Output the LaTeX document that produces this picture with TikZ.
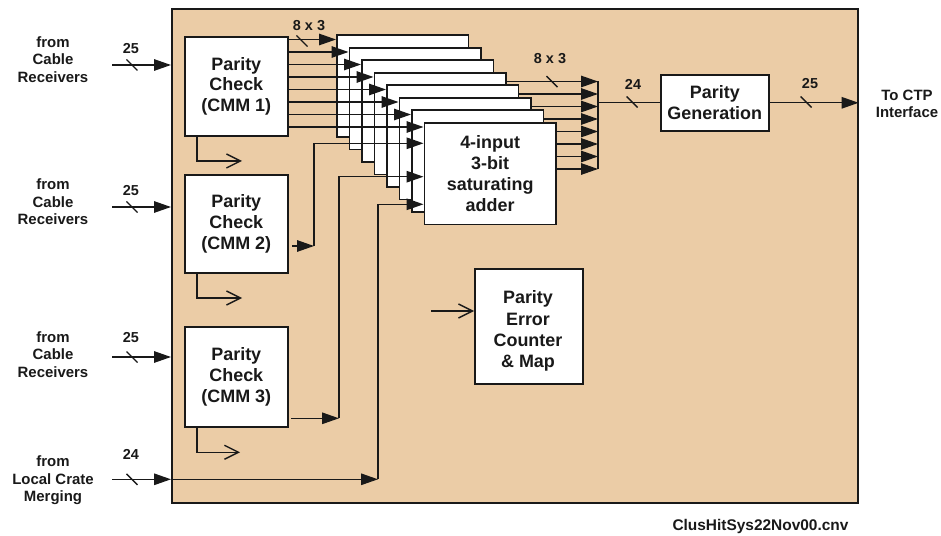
\documentclass[tikz,border=0pt]{standalone}
\usepackage{fontspec}
\setmainfont{Liberation Sans}
\usetikzlibrary{arrows.meta,calc}
\definecolor{tanfill}{RGB}{235,204,166}
\definecolor{ink}{RGB}{25,25,25}
\pgfdeclarelayer{back}
\pgfdeclarelayer{mid}
\pgfsetlayers{back,mid,main}
\tikzset{
  conn/.style={draw=ink, line width=1.4bp},
  fa/.style={-{Triangle[length=17bp,width=11.5bp]}},
  oa/.style={-{Straight Barb[length=14bp,width=14bp]}},
  blk/.style={draw=ink, fill=white, line width=1.6bp, inner sep=0pt, anchor=north west,
    align=center, text=ink, font=\bfseries\fontsize{18}{21}\selectfont},
  lbl/.style={align=center, text=ink, inner sep=0pt, font=\bfseries\fontsize{15}{17.6}\selectfont},
  num/.style={text=ink, inner sep=0pt, font=\bfseries\fontsize{14.5}{17}\selectfont},
  btext/.style={align=center, text=ink, inner sep=0pt, font=\bfseries\fontsize{18}{21.3}\selectfont},
  bus/.pic={\draw[conn] (-5.5,-5.5) -- (5.5,5.5);}
}
\begin{document}
\begin{tikzpicture}[x=1bp,y=-1bp]
\useasboundingbox (0,0) rectangle (941,536);
\begin{pgfonlayer}{back}
\node[draw=ink, fill=tanfill, line width=1.6bp, inner sep=0pt, anchor=north west,
  minimum width=686bp, minimum height=494bp] (main) at (171,8) {};
\end{pgfonlayer}

% parity check blocks
\node[blk, minimum width=103bp, minimum height=99bp] (cmm1) at (184,36) {Parity\\Check\\(CMM 1)};
\node[blk, minimum width=103bp, minimum height=98bp] (cmm2) at (184,174) {Parity\\Check\\(CMM 2)};
\node[blk, minimum width=103bp, minimum height=100bp] (cmm3) at (184,326) {Parity\\Check\\(CMM 3)};
\node[blk, minimum width=108bp, minimum height=56bp] (pgen) at (660,74) {Parity\\Generation};
\node[blk, minimum width=108bp, minimum height=115bp] (perr) at (474,268) {};
\node[btext] (perrtxt) at (528,331) {Parity\\Error\\Counter\\\& Map};

% stack of adders
\foreach \i in {0,...,6} {
  \node[blk, minimum width=131.7bp, minimum height=101.7bp] (s\i) at ({336+12.5*\i},{34.5+12.5*\i}) {};
}
\node[blk, minimum width=131.7bp, minimum height=101.7bp] (s7) at ({336+12.5*7},{34.5+12.5*7}) {4-input\\3-bit\\saturating\\adder};

% output bus of the stack (behind the boxes)
\coordinate (bar) at (598,120);
\begin{pgfonlayer}{mid}
\foreach \i in {0,...,7} {
  \coordinate (o\i) at ($(s\i.north east)+(0,47)$);
  \draw[conn, fa] (o\i) -- (o\i -| bar);
}
\draw[conn] (o0 -| bar) -- (o7 -| bar);
\end{pgfonlayer}

% inputs from CMM1 into each adder
\foreach \i in {0,...,7} {
  \coordinate (t\i) at ($(s\i.north west)+(0,5)$);
  \draw[conn, fa] (t\i -| cmm1.east) -- (t\i);
}

% CMM2, CMM3 and local crate into the front adder
\coordinate (ina) at ($(s7.north west)+(0,21.3)$);
\coordinate (inb) at ($(s7.north west)+(0,54.7)$);
\coordinate (inc) at ($(s7.north west)+(0,82.3)$);
\coordinate (c2s) at (292,246);
\coordinate (c2v) at (314,246);
\coordinate (c3s) at (291,418.3);
\coordinate (c3v) at (339,418.3);
\coordinate (lcs) at (112,479.3);
\coordinate (lcv) at (378,479.3);
\draw[conn, fa] (c2s) -- (c2v);
\draw[conn, fa] (c2v) |- (ina);
\draw[conn, fa] (c3s) -- (c3v);
\draw[conn, fa] (c3v) |- (inb);
\draw[conn, fa] (lcs) -- (lcs -| main.west);
\draw[conn, fa] (lcs -| main.west) -- (lcv);
\draw[conn, fa] (lcv) |- (inc);

% error outputs below each parity check
\coordinate (e1) at (242,161);
\coordinate (e2) at (242,298);
\coordinate (e3) at (240,452.3);
\draw[conn, oa] (cmm1.south west -| 197,0) |- (e1);
\draw[conn, oa] (cmm2.south west -| 197,0) |- (e2);
\draw[conn, oa] (cmm3.south west -| 197,0) |- (e3);
\coordinate (pin) at ($(perr.north west)+(0,43)$);
\draw[conn, oa] (pin -| 431,0) -- (pin);

% external inputs
\coordinate (x1) at (112,65);
\coordinate (x2) at (112,207);
\coordinate (x3) at (112,357);
\draw[conn, fa] (x1) -- (x1 -| main.west);
\draw[conn, fa] (x2) -- (x2 -| main.west);
\draw[conn, fa] (x3) -- (x3 -| main.west);
\pic at (132,65) {bus};
\pic at (132,207) {bus};
\pic at (132,357) {bus};
\pic at (132,479.3) {bus};
\node[num] (n1) at (131,49) {25};
\node[num] (n2) at (131,190.5) {25};
\node[num] (n3) at (131,337.5) {25};
\node[num] (n4) at (131,454) {24};
\node[lbl] (f1) at (53,59.5) {from\\Cable\\Receivers};
\node[lbl] (f2) at (53,202) {from\\Cable\\Receivers};
\node[lbl] (f3) at (53,354.3) {from\\Cable\\Receivers};
\node[lbl] (f4) at (53,480.3) {from\\Local Crate\\Merging};

% parity generation path
\draw[conn] (pgen.west -| bar) -- (pgen.west);
\coordinate (outp) at (pgen.east -| main.east);
\draw[conn, fa] (pgen.east) -- (outp);
\pic at (632,102) {bus};
\pic at (806,102) {bus};
\node[num] (n24) at (633,84) {24};
\node[num] (n25) at (810,84) {25};
\node[lbl] (ctp) at (907,104) {To CTP\\Interface};

% bus width marks
\pic at (302,41) {bus};
\pic at (552,81.7) {bus};
\node[num] (b1) at (309,25.5) {8 x 3};
\node[num] (b2) at (550,59) {8 x 3};

\node[text=ink, inner sep=0pt, font=\bfseries\fontsize{15.5}{18}\selectfont] (fname) at (760.5,526.5) {ClusHitSys22Nov00.cnv};
\end{tikzpicture}
\end{document}
